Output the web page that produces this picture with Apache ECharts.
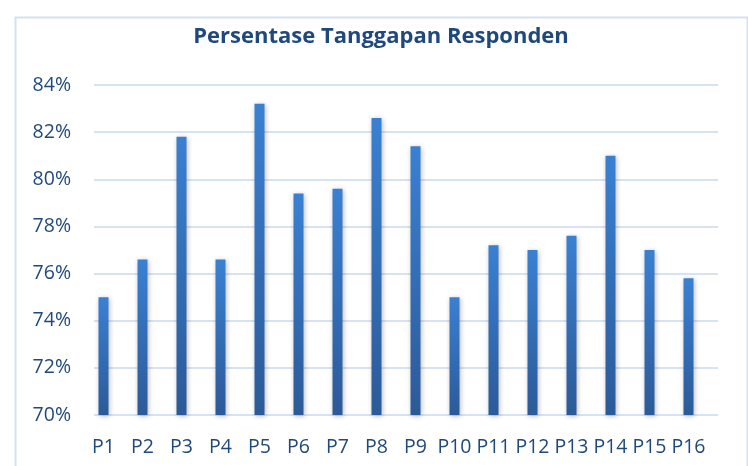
<!DOCTYPE html>
<html>
<head>
<meta charset="utf-8">
<script src="https://cdn.jsdelivr.net/npm/echarts@6/dist/echarts.min.js"></script>
<style>
html,body{margin:0;padding:0;background:#fff;}
#chart{width:748px;height:466px;}
</style>
</head>
<body>
<div id="chart"></div>
<script>
var categories = ['P1','P2','P3','P4','P5','P6','P7','P8','P9','P10','P11','P12','P13','P14','P15','P16'];
var values = [75.0, 76.6, 81.8, 76.6, 83.2, 79.4, 79.6, 82.6, 81.4, 75.0, 77.2, 77.0, 77.6, 81.0, 77.0, 75.8];
var yMin = 70, yMax = 84, yStep = 2;
var titleText = 'Persentase Tanggapan Responden';

var textColor = '#1F497D';
var font = 'Open Sans';

var chart = echarts.init(document.getElementById('chart'), null, {renderer: 'canvas'});
chart.setOption({
  backgroundColor: '#fff',
  animation: false,
  title: {
    text: titleText,
    left: 376, top: 21, textAlign: 'center',
    textStyle: {fontFamily: font, fontWeight: 'bold', fontSize: 22, color: textColor}
  },
  graphic: [{
    type: 'rect', left: 13, top: 15,
    shape: {width: 732, height: 470},
    style: {fill: 'none', stroke: '#D5E1F0', lineWidth: 2},
    silent: true
  }],
  grid: [
    {left: 84, right: 40, top: 85, bottom: 51},
    {left: 94, right: 30, top: 85, bottom: 51}
  ],
  xAxis: [
    {
      type: 'category', gridIndex: 0, data: categories,
      axisLine: {show: false}, axisTick: {show: false},
      axisLabel: {fontFamily: font, fontSize: 19.5, color: textColor, margin: 22, interval: 0}
    },
    {
      type: 'category', gridIndex: 1, data: categories, show: false
    }
  ],
  yAxis: [
    {
      type: 'value', gridIndex: 0, min: yMin, max: yMax, interval: yStep, show: false,
      splitLine: {show: false}
    },
    {
      type: 'value', gridIndex: 1, min: yMin, max: yMax, interval: yStep,
      axisLine: {show: false}, axisTick: {show: false},
      axisLabel: {fontFamily: font, fontSize: 19.5, color: textColor, margin: 23, formatter: '{value}%'},
      splitLine: {lineStyle: {color: '#D6E3F3', width: 2}}
    }
  ],
  series: [{
    type: 'bar', xAxisIndex: 0, yAxisIndex: 0,
    data: values, barWidth: 10,
    itemStyle: {
      color: new echarts.graphic.LinearGradient(0, 0, 0, 1, [
        {offset: 0, color: '#3A80D2'},
        {offset: 1, color: '#2C5A98'}
      ]),
      shadowBlur: 5, shadowColor: 'rgba(0,0,0,0.28)', shadowOffsetX: 1, shadowOffsetY: 1
    }
  }]
});
</script>
</body>
</html>
